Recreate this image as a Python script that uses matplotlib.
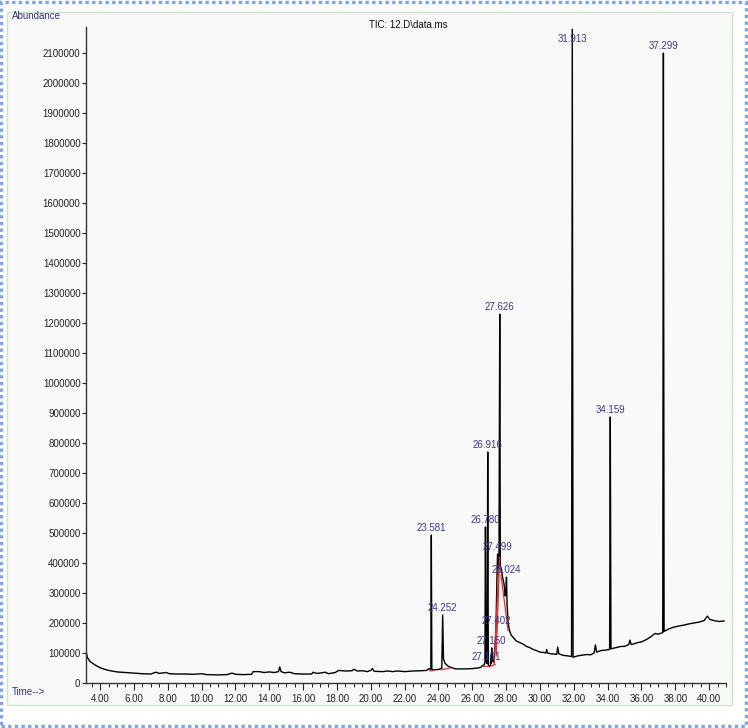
"""
TIC chromatogram (12.D\\data.ms) redrawn with matplotlib.
"""

import matplotlib

matplotlib.use("Agg")
import matplotlib.pyplot as plt
from matplotlib.patches import Rectangle
from matplotlib.ticker import FixedLocator, MultipleLocator, FormatStrFormatter

plt.rcParams["font.family"] = ["Liberation Sans", "DejaVu Sans"]

# --- data ------------------------------------------------------------------
# background signal (min, abundance), without the labelled apexes
base_time = [
    3.17, 3.25, 3.4, 3.6, 3.8, 4.0, 4.3, 4.6, 5.0, 5.5, 6.0, 6.5, 7.0, 7.3, 7.5,
    7.9, 8.1, 8.5, 9.0, 9.5, 10.0, 10.3, 11.0, 11.5, 11.8, 12.0, 12.5, 12.95,
    13.05, 13.4, 13.7, 14.0, 14.3, 14.55, 14.62, 14.7, 14.9, 15.2, 15.5, 16.0,
    16.5, 16.6, 16.8, 17.0, 17.3, 17.5, 17.9, 18.1, 18.5, 18.9, 19.0, 19.2,
    19.5, 19.8, 20.0, 20.1, 20.2, 20.7, 21.0, 21.3, 21.6, 22.0, 22.5, 23.0,
    23.3, 23.45, 23.55, 23.61, 23.7, 24.0, 24.2, 24.30, 24.40, 24.6, 25.0,
    25.5, 26.0, 26.3, 26.5, 26.6, 26.70, 26.75, 26.82, 26.88, 26.95, 27.02,
    27.07, 27.12, 27.18, 27.25, 27.32, 27.43, 27.47, 27.53, 27.58, 27.66,
    27.72, 27.80, 27.88, 27.95, 27.99, 28.06, 28.12, 28.20, 28.3, 28.45, 28.6,
    28.8, 29.0, 29.2, 29.4, 29.6, 29.8, 30.0, 30.2, 30.35, 30.4, 30.45, 30.7,
    31.0, 31.05, 31.12, 31.4, 31.7, 31.87, 31.96, 32.2, 32.5, 32.8, 33.0, 33.2,
    33.28, 33.35, 33.6, 33.9, 34.12, 34.2, 34.5, 34.8, 35.0, 35.25, 35.32,
    35.4, 35.8, 36.0, 36.3, 36.5, 36.8, 37.0, 37.26, 37.34, 37.6, 37.9, 38.2,
    38.5, 38.8, 39.1, 39.4, 39.7, 39.9, 40.05, 40.3, 40.6, 40.88,
]
base_abund = [
    107000, 85000, 72000, 64000, 57000, 51000, 45000, 41000, 37000, 35000,
    33000, 31000, 30000, 36000, 32000, 35000, 31000, 30000, 30000, 29000,
    31000, 28000, 27000, 28000, 33000, 29000, 28000, 29000, 38000, 38000,
    35000, 37000, 35000, 38000, 54000, 38000, 34000, 36000, 31000, 30000,
    30000, 36000, 32000, 33000, 36000, 31000, 35000, 42000, 40000, 41000,
    46000, 40000, 41000, 38000, 42000, 48000, 39000, 38000, 40000, 38000,
    40000, 38000, 40000, 41000, 42000, 48000, 45000, 45000, 44000, 45000,
    50000, 80000, 65000, 55000, 47000, 47000, 48000, 50000, 52000, 58000,
    60000, 70000, 70000, 65000, 60000, 55000, 60000, 65000, 75000, 70000,
    100000, 260000, 380000, 380000, 400000, 390000, 380000, 350000, 330000,
    290000, 310000, 260000, 200000, 175000, 160000, 150000, 140000, 135000,
    130000, 122000, 118000, 112000, 108000, 103000, 102000, 100000, 112000,
    100000, 97000, 96000, 120000, 97000, 92000, 90000, 88000, 86000, 90000,
    93000, 95000, 94000, 100000, 127000, 103000, 108000, 110000, 112000,
    114000, 118000, 122000, 122000, 128000, 143000, 128000, 135000, 137000,
    145000, 152000, 165000, 163000, 168000, 172000, 180000, 186000, 190000,
    193000, 197000, 200000, 203000, 208000, 223000, 212000, 208000, 205000,
    207000,
]

# labelled peaks: retention time and apex abundance
peak_rt = [23.581, 24.252, 26.780, 26.916, 27.101, 27.150, 27.402, 27.499,
           27.626, 28.024, 31.913, 34.159, 37.299]
peak_height = [493000, 227000, 520000, 770000, 90000, 117000, 183000, 430000,
               1230000, 353000, 2180000, 887000, 2100000]

# integration baselines (red)
integ_start = [(23.50, 40000), (24.15, 44000), (26.65, 55000), (27.05, 55000),
               (27.30, 62000), (27.42, 90000), (27.70, 360000)]
integ_end = [(23.72, 42000), (24.70, 50000), (26.98, 56000), (27.35, 62000),
             (27.56, 380000), (27.62, 420000), (28.12, 175000)]

x_ticks = list(range(4, 41, 2))
y_ticks = list(range(0, 2100001, 100000))

# merge background and apexes into one trace, ordered by time
trace = sorted(zip(base_time + peak_rt, base_abund + peak_height))
trace_t = [p[0] for p in trace]
trace_a = [p[1] for p in trace]

# --- figure ------------------------------------------------------------------
fig = plt.figure(figsize=(7.48, 7.28), dpi=100, facecolor="white")

# outer dotted frame and inner panel, kept behind the axes
fig.patches.append(Rectangle((0.002, 0.003), 0.995, 0.994, transform=fig.transFigure,
                             fill=False, edgecolor="#7ea4e4", lw=2.4,
                             linestyle=(0, (1, 1)), zorder=-10))
fig.patches.append(Rectangle((0.010, 0.031), 0.969, 0.952, transform=fig.transFigure,
                             facecolor="#f9f9f9", edgecolor="#cfe2cf", lw=1.0,
                             zorder=-10))

ax = fig.add_axes([0.115, 0.0618, 0.8556, 0.901])
ax.patch.set_alpha(0)

ax.plot(trace_t, trace_a, color="black", lw=1.0)
for (x0, y0), (x1, y1) in zip(integ_start, integ_end):
    ax.plot([x0, x1], [y0, y1], color="#e03030", lw=0.9)

for rt, h in zip(peak_rt, peak_height):
    # 27.101 sits just under 27.150, as in the original report
    dx, dy = (-3, -4) if rt == 27.101 else (0, 1.5)
    ax.annotate(f"{rt:.3f}", (rt, min(h, 2125000)), xytext=(dx, dy),
                textcoords="offset points", ha="center", va="bottom",
                fontsize=7, color="#3a3a92")

ax.set_xlim(3.17, 41.0)
ax.set_ylim(0, 2187000)

ax.xaxis.set_major_locator(FixedLocator(x_ticks))
ax.xaxis.set_minor_locator(MultipleLocator(0.5))
ax.xaxis.set_major_formatter(FormatStrFormatter("%.2f"))
ax.yaxis.set_major_locator(FixedLocator(y_ticks))
ax.yaxis.set_major_formatter(FormatStrFormatter("%d"))
ax.tick_params(axis="both", labelsize=7, colors="#222222", width=0.8)
ax.tick_params(axis="x", which="major", length=5, pad=3)
ax.tick_params(axis="x", which="minor", length=3, width=0.7, color="#222222")
ax.tick_params(axis="y", which="major", length=3, pad=1)

for side in ("top", "right"):
    ax.spines[side].set_visible(False)
for side in ("left", "bottom"):
    ax.spines[side].set_color("#333333")
    ax.spines[side].set_linewidth(1.0)

fig.text(12 / 748, 1 - 16 / 728, "Abundance", fontsize=7, color="#33337a",
         ha="left", va="center")
fig.text(408 / 748, 1 - 25 / 728, "TIC: 12.D\\data.ms", fontsize=7,
         color="#111111", ha="center", va="center")
fig.text(12 / 748, 1 - 692 / 728, "Time-->", fontsize=7, color="#33337a",
         ha="left", va="center")

fig.savefig("out.png", dpi=100, facecolor=fig.get_facecolor())
